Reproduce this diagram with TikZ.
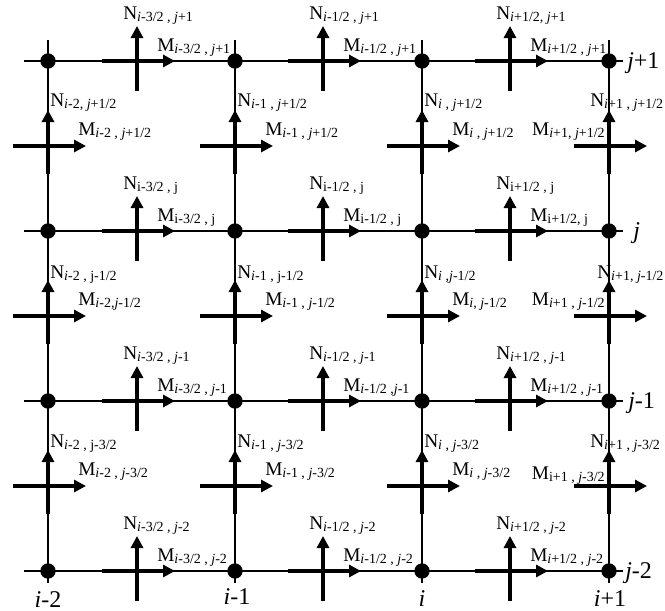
\documentclass[tikz,border=0pt]{standalone}
\usepackage{fontspec}
\setmainfont{Liberation Serif}
\usepackage{tikz}
\usetikzlibrary{arrows.meta, positioning, calc}

\newcommand{\fsub}[1]{\raisebox{-2.2pt}{\fontsize{10.5}{11}\selectfont #1}}

\begin{document}
\begin{tikzpicture}[
  x=0.75pt, y=-0.75pt,
  dot/.style={circle, fill=black, inner sep=0pt, minimum size=11.5pt},
  gridline/.style={line width=1.1pt},
  force/.style={line width=3.2pt, -{Triangle[length=9pt,width=9pt]}},
  lbl/.style={inner sep=0pt, anchor=base west, font=\fontsize{14.5}{15}\selectfont},
  lblr/.style={lbl, anchor=base east},
  axis/.style={inner sep=0pt, font=\fontsize{18}{18}\selectfont}
]
\useasboundingbox (0,0) rectangle (665,611);

\foreach \c/\x in {0/48,1/235,2/422,3/609} {
  \coordinate (top-\c) at (\x,40);
  \coordinate (bot-\c) at (\x,583);
  \draw[gridline] (top-\c) -- (bot-\c);
}
\foreach \r/\y in {0/61,1/231,2/401,3/571} {
  \coordinate (lft-\r) at (24,\y);
  \coordinate (rgt-\r) at (623,\y);
  \draw[gridline] (lft-\r) -- (rgt-\r);
}
\foreach \c/\x in {0/48,1/235,2/422,3/609}
  \foreach \r/\y in {0/61,1/231,2/401,3/571}
    \node[dot] (g-\c-\r) at (\x,\y) {};

\foreach \c/\x in {0/137,1/323,2/510}
  \foreach \r/\y in {0/61,1/231,2/401,3/571} {
    \coordinate (h-\c-\r) at (\x,\y);
    \draw[force] ($(h-\c-\r)+(0,30)$) -- ($(h-\c-\r)+(0,-35)$);
    \draw[force] ($(h-\c-\r)+(-35,0)$) -- ($(h-\c-\r)+(38,0)$);
  }
\foreach \c/\x in {0/48,1/235,2/422,3/609}
  \foreach \r/\y in {0/146,1/316,2/486} {
    \coordinate (v-\c-\r) at (\x,\y);
    \draw[force] ($(v-\c-\r)+(0,28)$) -- ($(v-\c-\r)+(0,-36)$);
    \draw[force] ($(v-\c-\r)+(-35,0)$) -- ($(v-\c-\r)+(38,0)$);
  }

\node[lbl] (hn-0-0) at ($(h-0-0)+(-14,-42)$) {N\fsub{\textit{i}-3/2 , \textit{j}+1}};
\node[lbl] (hm-0-0) at ($(h-0-0)+(20,-10)$) {M\fsub{\textit{i}-3/2 , \textit{j}+1}};
\node[lbl] (hn-1-0) at ($(h-1-0)+(-14,-42)$) {N\fsub{\textit{i}-1/2 , \textit{j}+1}};
\node[lbl] (hm-1-0) at ($(h-1-0)+(20,-10)$) {M\fsub{\textit{i}-1/2 , \textit{j}+1}};
\node[lbl] (hn-2-0) at ($(h-2-0)+(-14,-42)$) {N\fsub{\textit{i}+1/2, \textit{j}+1}};
\node[lbl] (hm-2-0) at ($(h-2-0)+(20,-10)$) {M\fsub{\textit{i}+1/2 , \textit{j}+1}};

\node[lbl] (vn-0-0) at ($(v-0-0)+(2,-40)$) {N\fsub{\textit{i}-2, \textit{j}+1/2}};
\node[lbl] (vm-0-0) at ($(v-0-0)+(30,-11)$) {M\fsub{\textit{i}-2 , \textit{j}+1/2}};
\node[lbl] (vn-1-0) at ($(v-1-0)+(2,-40)$) {N\fsub{\textit{i}-1 , \textit{j}+1/2}};
\node[lbl] (vm-1-0) at ($(v-1-0)+(30,-11)$) {M\fsub{\textit{i}-1 , \textit{j}+1/2}};
\node[lbl] (vn-2-0) at ($(v-2-0)+(2,-40)$) {N\fsub{\textit{i} , \textit{j}+1/2}};
\node[lbl] (vm-2-0) at ($(v-2-0)+(30,-11)$) {M\fsub{\textit{i} , \textit{j}+1/2}};
\node[lbl] (vn-3-0) at ($(v-3-0)+(-19,-40)$) {N\fsub{\textit{i}+1 , \textit{j}+1/2}};
\node[lblr] (vm-3-0) at ($(v-3-0)+(-4,-11)$) {M\fsub{\textit{i}+1, \textit{j}+1/2}};

\node[lbl] (hn-0-1) at ($(h-0-1)+(-14,-42)$) {N\fsub{i-3/2 , j}};
\node[lbl] (hm-0-1) at ($(h-0-1)+(20,-10)$) {M\fsub{i-3/2 , j}};
\node[lbl] (hn-1-1) at ($(h-1-1)+(-14,-42)$) {N\fsub{i-1/2 , j}};
\node[lbl] (hm-1-1) at ($(h-1-1)+(20,-10)$) {M\fsub{i-1/2 , j}};
\node[lbl] (hn-2-1) at ($(h-2-1)+(-14,-42)$) {N\fsub{i+1/2 , j}};
\node[lbl] (hm-2-1) at ($(h-2-1)+(20,-10)$) {M\fsub{i+1/2, j}};

\node[lbl] (vn-0-1) at ($(v-0-1)+(2,-38)$) {N\fsub{\textit{i}-2 , j-1/2}};
\node[lbl] (vm-0-1) at ($(v-0-1)+(30,-11)$) {M\fsub{\textit{i}-2,\textit{j}-1/2}};
\node[lbl] (vn-1-1) at ($(v-1-1)+(2,-38)$) {N\fsub{\textit{i}-1 , j-1/2}};
\node[lbl] (vm-1-1) at ($(v-1-1)+(30,-11)$) {M\fsub{\textit{i}-1 , \textit{j}-1/2}};
\node[lbl] (vn-2-1) at ($(v-2-1)+(2,-38)$) {N\fsub{\textit{i} ,\textit{j}-1/2}};
\node[lbl] (vm-2-1) at ($(v-2-1)+(30,-11)$) {M\fsub{\textit{i}, \textit{j}-1/2}};
\node[lbl] (vn-3-1) at ($(v-3-1)+(-12,-38)$) {N\fsub{\textit{i}+1, \textit{j}-1/2}};
\node[lblr] (vm-3-1) at ($(v-3-1)+(-4,-11)$) {M\fsub{\textit{i}+1 , \textit{j}-1/2}};

\node[lbl] (hn-0-2) at ($(h-0-2)+(-14,-42)$) {N\fsub{\textit{i}-3/2 , \textit{j}-1}};
\node[lbl] (hm-0-2) at ($(h-0-2)+(20,-10)$) {M\fsub{\textit{i}-3/2 , \textit{j}-1}};
\node[lbl] (hn-1-2) at ($(h-1-2)+(-14,-42)$) {N\fsub{\textit{i}-1/2 , \textit{j}-1}};
\node[lbl] (hm-1-2) at ($(h-1-2)+(20,-10)$) {M\fsub{\textit{i}-1/2 ,\textit{j}-1}};
\node[lbl] (hn-2-2) at ($(h-2-2)+(-14,-42)$) {N\fsub{\textit{i}+1/2 , \textit{j}-1}};
\node[lbl] (hm-2-2) at ($(h-2-2)+(20,-10)$) {M\fsub{\textit{i}+1/2 , \textit{j}-1}};

\node[lbl] (vn-0-2) at ($(v-0-2)+(2,-39)$) {N\fsub{\textit{i}-2 , j-3/2}};
\node[lbl] (vm-0-2) at ($(v-0-2)+(30,-11)$) {M\fsub{\textit{i}-2 , \textit{j}-3/2}};
\node[lbl] (vn-1-2) at ($(v-1-2)+(2,-39)$) {N\fsub{\textit{i}-1 , \textit{j}-3/2}};
\node[lbl] (vm-1-2) at ($(v-1-2)+(30,-11)$) {M\fsub{\textit{i}-1 , \textit{j}-3/2}};
\node[lbl] (vn-2-2) at ($(v-2-2)+(2,-39)$) {N\fsub{\textit{i} , \textit{j}-3/2}};
\node[lbl] (vm-2-2) at ($(v-2-2)+(30,-11)$) {M\fsub{\textit{i} , \textit{j}-3/2}};
\node[lbl] (vn-3-2) at ($(v-3-2)+(-19,-39)$) {N\fsub{\textit{i}+1 , \textit{j}-3/2}};
\node[lblr] (vm-3-2) at ($(v-3-2)+(-4,-7)$) {M\fsub{i+1 , \textit{j}-3/2}};

\node[lbl] (hn-0-3) at ($(h-0-3)+(-14,-42)$) {N\fsub{\textit{i}-3/2 , \textit{j}-2}};
\node[lbl] (hm-0-3) at ($(h-0-3)+(20,-10)$) {M\fsub{\textit{i}-3/2 , \textit{j}-2}};
\node[lbl] (hn-1-3) at ($(h-1-3)+(-14,-42)$) {N\fsub{\textit{i}-1/2 , \textit{j}-2}};
\node[lbl] (hm-1-3) at ($(h-1-3)+(20,-10)$) {M\fsub{\textit{i}-1/2 , \textit{j}-2}};
\node[lbl] (hn-2-3) at ($(h-2-3)+(-14,-42)$) {N\fsub{\textit{i}+1/2 , \textit{j}-2}};
\node[lbl] (hm-2-3) at ($(h-2-3)+(20,-10)$) {M\fsub{\textit{i}+1/2 , \textit{j}-2}};

\node[axis, anchor=base west] (jp1) at ($(rgt-0)+(4,7)$) {\textit{j}+1};
\node[axis, anchor=base west] (j0) at ($(rgt-1)+(10,7)$) {\textit{j}};
\node[axis, anchor=base west] (jm1) at ($(rgt-2)+(5,7)$) {\textit{j}-1};
\node[axis, anchor=base west] (jm2) at ($(rgt-3)+(2,7)$) {\textit{j}-2};
\node[axis, anchor=base] (im2) at ($(bot-0)+(0,24)$) {\textit{i}-2};
\node[axis, anchor=base] (im1) at ($(bot-1)+(2,21)$) {\textit{i}-1};
\node[axis, anchor=base] (i0) at ($(bot-2)+(0,23)$) {\textit{i}};
\node[axis, anchor=base] (ip1) at ($(bot-3)+(1,23)$) {\textit{i}+1};
\end{tikzpicture}
\end{document}
